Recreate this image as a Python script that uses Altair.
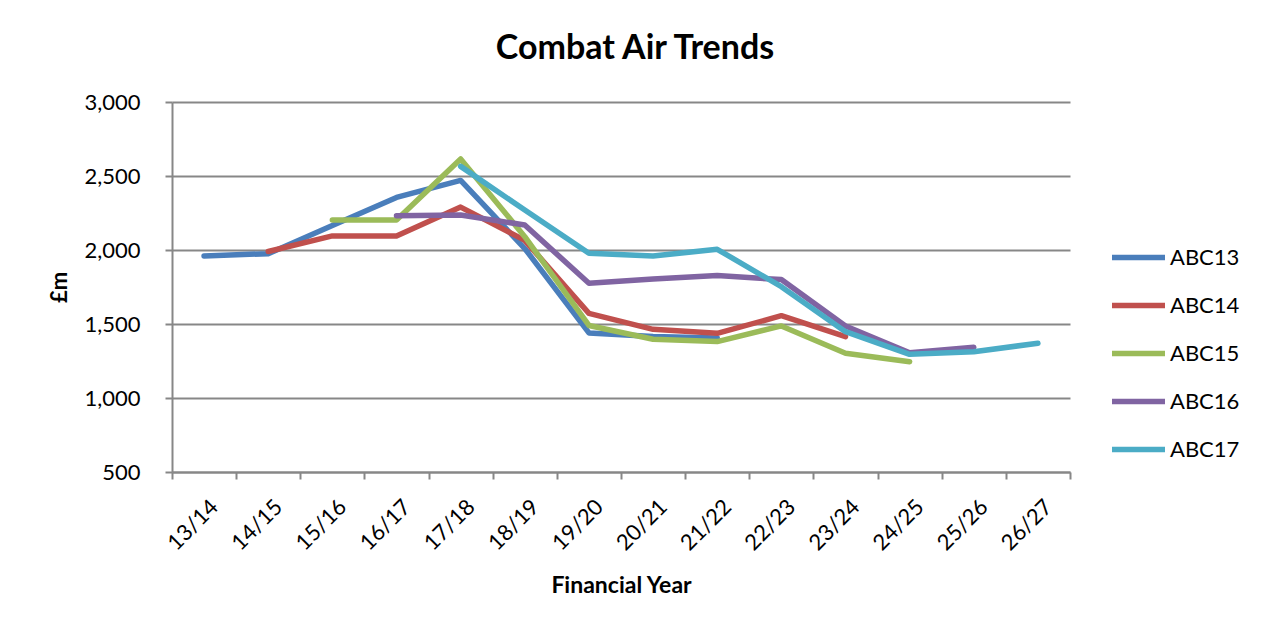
import altair as alt
import pandas as pd

years = ["13/14", "14/15", "15/16", "16/17", "17/18", "18/19", "19/20",
         "20/21", "21/22", "22/23", "23/24", "24/25", "25/26", "26/27"]
series_names = ["ABC13", "ABC14", "ABC15", "ABC16", "ABC17"]
abc13 = [1960, 1975, 2165, 2355, 2470, 2010, 1440, 1415, 1405, None, None, None, None, None]
abc14 = [None, 1990, 2095, 2095, 2290, 2065, 1572, 1464, 1437, 1556, 1414, None, None, None]
abc15 = [None, None, 2203, 2203, 2615, 2090, 1490, 1397, 1381, 1487, 1302, 1245, None, None]
abc16 = [None, None, None, 2232, 2237, 2169, 1775, 1804, 1827, 1800, 1487, 1306, 1343, None]
abc17 = [None, None, None, None, 2565, 2270, 1978, 1959, 2005, 1752, 1448, 1295, 1313, 1370]
colors = ["#4A7EBB", "#C0504D", "#9BBB59", "#8064A2", "#4BACC6"]

rows = []
for name, vals in zip(series_names, [abc13, abc14, abc15, abc16, abc17]):
    for yr, v in zip(years, vals):
        if v is not None:
            rows.append({"year": yr, "series": name, "value": v})
df = pd.DataFrame(rows)

FONT = "Lato"
GRID = "#878787"

chart = alt.Chart(df).mark_line(
    strokeWidth=5.5, strokeCap="round", strokeJoin="round"
).encode(
    x=alt.X("year:N", sort=years, bandPosition=0.5,
            scale=alt.Scale(type="band", domain=years, paddingInner=0, paddingOuter=0),
            axis=alt.Axis(title="Financial Year", labelAngle=-45, tickBand="extent",
                          labelFontSize=22, labelFont=FONT, labelColor="black",
                          titleFontSize=23, titleFont=FONT, titleFontWeight="bold",
                          titleColor="black", titlePadding=21,
                          domainColor=GRID, domainWidth=2, tickColor=GRID, tickWidth=2,
                          tickSize=7, labelPadding=17, labelOffset=3, grid=False)),
    y=alt.Y("value:Q",
            scale=alt.Scale(domain=[500, 3000], nice=False, zero=False),
            axis=alt.Axis(title="£m", values=[500, 1000, 1500, 2000, 2500, 3000],
                          format=",.0f", labelFontSize=22, labelFont=FONT, labelColor="black",
                          titleFontSize=22, titleFont=FONT, titleFontWeight="bold",
                          titleColor="black", titlePadding=12,
                          domainColor=GRID, domainWidth=2, tickColor=GRID, tickWidth=2,
                          tickSize=7, labelPadding=25, gridColor=GRID, gridWidth=2)),
    color=alt.Color("series:N", sort=series_names,
                    scale=alt.Scale(domain=series_names, range=colors),
                    legend=alt.Legend(title=None, orient="none", legendX=937, legendY=126,
                                      symbolType="stroke", symbolStrokeWidth=5.5,
                                      symbolSize=2809, labelFontSize=22, labelFont=FONT,
                                      labelColor="black", labelOffset=2, rowPadding=7)),
).properties(
    width=898,
    height=370,
    title=alt.TitleParams("Combat Air Trends", font=FONT, fontSize=34, fontWeight="bold",
                          color="black", anchor="middle", dx=14, offset=25),
    autosize=alt.AutoSizeParams(type="none"),
    padding={"left": 164, "top": 94, "right": 190, "bottom": 147},
).configure_view(stroke=None)

chart.save("out.html", embed_options={"renderer": "svg", "actions": False})
